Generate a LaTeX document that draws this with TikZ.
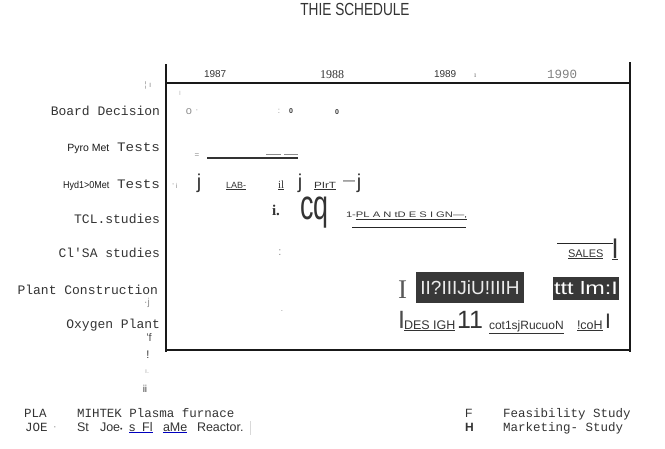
\documentclass[tikz,border=0pt]{standalone}
\usepackage{fontspec}
\setmainfont{Liberation Serif}
\setsansfont{Liberation Sans}
\setmonofont{Liberation Mono}
\usetikzlibrary{positioning}

\begin{document}
\begin{tikzpicture}[x=1pt,y=-1pt,every node/.style={inner sep=0pt,outer sep=0pt,text=black!80},
	frame/.style={line width=1.7pt,black!90},
	lbl/.style={anchor=base east,font=\fontsize{13}{15}\selectfont\ttfamily},
	leg/.style={anchor=base west,font=\fontsize{12.5}{14}\selectfont\ttfamily},
	mk/.style={text=black!45,font=\fontsize{8}{9}\selectfont\sffamily},
	bw/.style={anchor=base west},
	sf/.style={font=\fontsize{#1}{#1}\selectfont\sffamily},
	sfb/.style={font=\fontsize{#1}{#1}\selectfont\sffamily\bfseries},
	rm/.style={font=\fontsize{#1}{#1}\selectfont\rmfamily},
	rmb/.style={font=\fontsize{#1}{#1}\selectfont\rmfamily\bfseries},
	darkbox/.style={fill=black!78,text=black!8}]
	\useasboundingbox (0,0) rectangle (665,448);
	\coordinate (tl) at (166,64);
	\coordinate (tr) at (630,62);
	\draw[frame] (tl) -- (166,352);
	\draw[frame] (tr) -- (630,352);
	\draw[frame] (166,83) -- (630,83);
	\draw[frame] (166,350) -- (631,350);

	\node (title) at (355,15) [anchor=base,sf=17.5] {\scalebox{0.78}[1]{THIE SCHEDULE}};

	\node (y87) at (204,77) [bw,sf=10] {1987};
	\node (y88) at (320,78) [bw,rm=12] {1988};
	\node (y89) at (434,77) [bw,sf=10] {1989};
	\node (y89b) at (474,77) [bw,rm=8,text=black!55] {ı};
	\node (y90) at (547,78) [bw,font=\fontsize{12.5}{14}\selectfont\ttfamily,text=black!50] {1990};

	\node (brd) at (160,115) [lbl] {Board Decision};
	\node (pyro) at (160,151) [lbl] {{\fontsize{10.5}{12}\selectfont\sffamily\color{black!90}Pyro Met} \scalebox{1.1}[1]{Tests}};
	\node (hydro) at (160,188) [lbl] {{\fontsize{10}{12}\selectfont\sffamily\color{black!90}\scalebox{0.9}[1]{Hyd1>0Met}} \scalebox{1.1}[1]{Tests}};
	\node (tcl) at (160,223) [lbl] {TCL.studies};
	\node (csa) at (160,257) [lbl] {Cl'SA studies};
	\node (plant) at (158,294) [lbl] {Plant Construction};
	\node (oxy) at (160,328) [lbl] {Oxygen Plant};

	\node (m1) at (148,85) [mk] {¦ ı};
	\node (m2) at (180,93) [mk,text=black!25] {ı};
	\node (m3) at (147,303) [mk,sf=10] {·j};
	\node (m4) at (149,338) [mk,sf=11,text=black!70] {'f};
	\node (m5) at (148,355) [mk,sf=11,text=black!80] {!};
	\node (m6) at (147,372) [mk,sf=7,text=black!35] {ı.};
	\node (m7) at (145,389) [mk,sf=10,text=black!75] {ii};

	\node (bd1) at (189,112) [mk,sf=11] {o};
	\node (bd2) at (197,111) [mk] {·};
	\node (bd3) at (279,111) [mk] {:};
	\node (bd4) at (291,111) [sfb=7] {0};
	\node (bd5) at (337,112) [sfb=7] {0};

	\node (py1) at (197,156) [mk] {=};
	\draw[line width=1.8pt,black!80] (207,158) -- (298,158);
	\draw[black!45] (266,154.5) -- (281,154.5) (284,154.5) -- (298,154.5);

	\node (hy1) at (175,186) [mk,sf=7] {' i};
	\node (hy2) at (199,188) [anchor=base,sf=20] {j};
	\node (hy3) at (226,188) [bw,sf=9] {\underline{LAB-}};
	\node (hy4) at (278,188) [bw,rm=11] {\underline{il}};
	\node (hy5) at (300,188) [anchor=base,sf=20] {j};
	\node (hy6) at (314,188) [bw,sf=9] {\underline{\scalebox{1.3}[1]{PIrT}}};
	\node (hy7) at (349,183) [sf=12] {—};
	\node (hy8) at (359,188) [anchor=base,sf=20] {j};

	\node (tc1) at (272,215) [bw,rmb=15] {i.};
	\node (tc2) at (300,219) [bw,sf=42] {\scalebox{0.64}[1]{cq}};
	\node (tc3) at (346,217) [bw,sf=8] {\scalebox{1.4}[1]{1-\underline{PL A N tD E S I GN—,}}};
	\draw[black!85] (352,227) -- (466,227);

	\node (cs1) at (280,253) [mk,sf=11] {:};
	\draw[black!85] (557,243) -- (613,243);
	\node (cs2) at (568,257) [bw,sf=11] {\underline{SALES}};
	\node (cs3) at (612,258) [bw,sf=27] {\underline{l}};

	\node (pc1) at (398,298) [bw,rm=27,text=black!65] {I};
	\node (pc2) at (470,287.5) [darkbox,sf=19,minimum width=108,minimum height=31] {II?IIIJiU!IIIH};
	\node (pc3) at (586,288.5) [darkbox,sf=18,minimum width=66,minimum height=23,text=white] {\scalebox{1.3}[1]{ttt lm:I}};
	\node (pc4) at (282,311) [mk] {.};

	\node (ox1) at (398,328) [bw,sf=25,text=black!70] {I};
	\node (ox2) at (404,329) [bw,sf=12.5] {\underline{DES IGH}};
	\node (ox3) at (457,328) [bw,sf=25] {11};
	\node (ox4) at (489,329) [bw,sf=12] {\underline{cot1sjRucuoN}};
	\node (ox5) at (577,329) [bw,sf=12.5] {\underline{!coH}};
	\node (ox6) at (605,328) [bw,sf=21] {I};

	\node (pla) at (24,417) [leg] {PLA};
	\node (pladef) at (77,417) [leg] {MIHTEK Plasma furnace};
	\node (joe) at (25,431) [leg] {JOE};
	\node (jd1) at (55,428) [sf=8] {·};
	\node (jd2) at (77,431) [bw,sf=12.5] {St};
	\node (jd3) at (100,431) [bw,sf=12.5] {Joe{\fontsize{7}{8}\selectfont•}};
	\node (jd4) at (129,431) [bw,sf=12.5] {{\color{blue!75!black}\underline{\color{black!80}s\ \ Fl}}};
	\node (jd5) at (163,431) [bw,sf=12.5] {{\color{blue!75!black}\underline{\color{black!80}aMe}}};
	\node (jd6) at (197,431) [bw,sf=12.5] {Reactor.};
	\draw[black!15] (250,421) -- (250,435);
	\node (f) at (465,417) [bw,sf=12] {F};
	\node (fdef) at (503,417) [leg] {Feasibility Study};
	\node (h) at (465,431) [bw,sfb=12] {H};
	\node (hdef) at (503,431) [leg] {Marketing- Study};
\end{tikzpicture}
\end{document}
